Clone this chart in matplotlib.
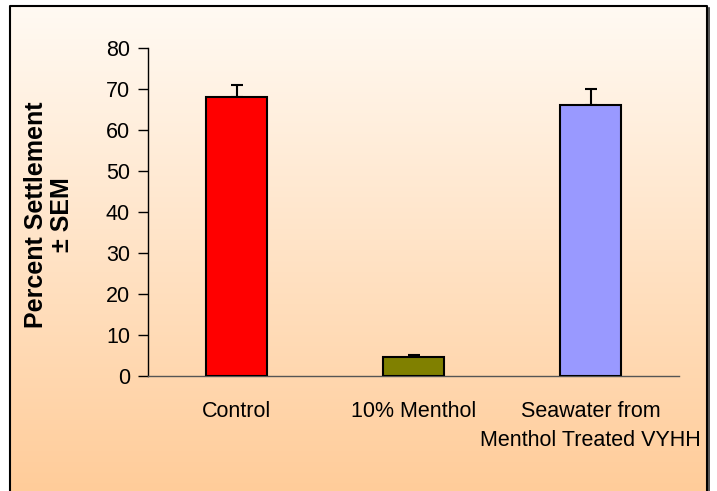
import matplotlib
matplotlib.use("Agg")
import matplotlib.pyplot as plt
import numpy as np

categories = ["Control", "10% Menthol", "Seawater from\nMenthol Treated VYHH"]
values = [68.0, 4.6, 66.1]
errors = [3.0, 0.5, 4.0]
colors = ["#FF0000", "#808000", "#9999FF"]
yticks = [0, 10, 20, 30, 40, 50, 60, 70, 80]

plt.rcParams['font.family'] = ['Liberation Sans', 'DejaVu Sans']

W, H = 717, 491
fig = plt.figure(figsize=(W/100, H/100), dpi=100)

# background gradient with border
bg = fig.add_axes([0, 0, 1, 1])
bg.set_xlim(0, W); bg.set_ylim(H, 0)
bg.axis('off')
grad = np.linspace(0, 1, 256).reshape(-1, 1)
top = np.array([255, 250, 243]) / 255
bot = np.array([255, 204, 153]) / 255
img = top[None, None, :] * (1 - grad[:, :, None]) + bot[None, None, :] * grad[:, :, None]
bg.imshow(img, extent=[10, 707, 495, 6], aspect='auto', zorder=0)
bg.plot([10, 10, 707, 707], [495, 6, 6, 495], color='black', lw=1.5, zorder=1)
bg.plot([709, 709], [8, 495], color='#333333', lw=1.2, zorder=1)

# main axes: x from 148 to 679 px, y from 48 (80) to 376 (0)
ax = fig.add_axes([148/W, 1 - 376/H, (679-148)/W, (376-48)/H])
ax.patch.set_alpha(0)
x = np.arange(len(categories))
ax.bar(x, values, width=0.35, color=colors, edgecolor='black', linewidth=1.5, zorder=3)
ax.errorbar(x, values, yerr=[np.zeros(3), errors], fmt='none', ecolor='black',
            elinewidth=1.5, capsize=4.5, capthick=1.5, zorder=2)
ax.set_xlim(-0.5, 2.5)
ax.set_ylim(0, 80)
ax.set_yticks(yticks)
ax.set_yticklabels([str(v) for v in yticks], fontsize=15.5)
ax.set_xticks(x)
ax.set_xticklabels(categories, fontsize=15.5, linespacing=1.5)
ax.tick_params(axis='x', length=0, pad=18)
ax.tick_params(axis='y', direction='out', length=7, width=1, pad=6)
for s in ['top', 'right']:
    ax.spines[s].set_visible(False)
ax.spines['left'].set_linewidth(1)
ax.spines['bottom'].set_linewidth(1)
ax.spines['bottom'].set_color('#555555')

fig.text(36/W, 1 - 215/H, "Percent Settlement", rotation=90, fontsize=18,
         fontweight='bold', ha='center', va='center')
fig.text(62/W, 1 - 215/H, "\u00b1 SEM", rotation=90, fontsize=18,
         fontweight='bold', ha='center', va='center')

fig.savefig("out.png", dpi=100)
